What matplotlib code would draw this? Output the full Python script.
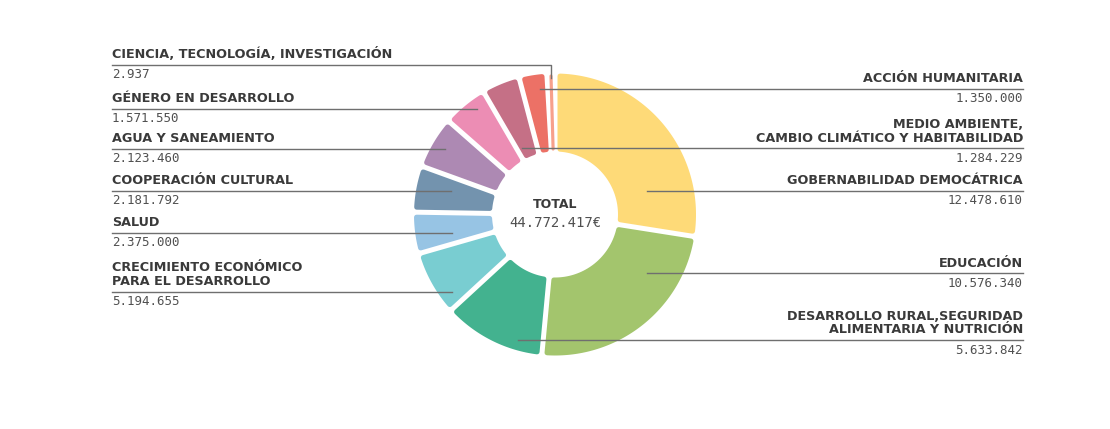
import numpy as np
import matplotlib.pyplot as plt
from matplotlib.patches import Polygon

plt.rcParams['font.family'] = ['DejaVu Sans']
NUM_FONT = ['DejaVu Sans Mono', 'DejaVu Sans']

# areas, clockwise from the top of the ring
categories = ['GOBERNABILIDAD DEMOCÁTRICA', 'EDUCACIÓN',
              'DESARROLLO RURAL,SEGURIDAD\nALIMENTARIA Y NUTRICIÓN',
              'CRECIMIENTO ECONÓMICO\nPARA EL DESARROLLO', 'SALUD',
              'COOPERACIÓN CULTURAL', 'AGUA Y SANEAMIENTO',
              'GÉNERO EN DESARROLLO',
              'MEDIO AMBIENTE,\nCAMBIO CLIMÁTICO Y HABITABILIDAD',
              'ACCIÓN HUMANITARIA', 'CIENCIA, TECNOLOGÍA, INVESTIGACIÓN']
amounts = [12478610, 10576340, 5633842, 5194655, 2375000, 2181792,
           2123460, 1571550, 1284229, 1350000, 2937]
total = 44772417
# share of the ring as drawn in the picture (%), it is not proportional to the amounts
drawn_share = [27.5, 24.0, 11.67, 7.39, 4.72, 5.28, 5.92, 5.14, 4.31, 3.17, 0.92]
colors = ['#FEDA78', '#A3C56D', '#43B28F', '#79CDD1', '#97C4E4', '#7393AE',
          '#AD89B3', '#EC8DB4', '#C57086', '#EC7166', '#F7A08B']

# label layout: side, y of the leader line (px from top), x where the leader ends
side = ['R', 'R', 'R', 'L', 'L', 'L', 'L', 'L', 'R', 'R', 'L']
line_y = [191, 273.3, 340, 291.7, 233, 190.7, 149, 109, 148.3, 89, 65]
lead_x = [647, 647, 518, 452, 452, 451, 445, 477, 522, 540, None]

W, H = 1110, 429
cx, cy = 555, 214.5
fig = plt.figure(figsize=(W / 100, H / 100), dpi=100)
ax = fig.add_axes([0, 0, 1, 1])

wedges, _ = ax.pie(drawn_share, startangle=90, counterclock=False, radius=141,
                   center=(cx, cy), wedgeprops=dict(width=78))
ax.set_xlim(0, W)
ax.set_ylim(0, H)
ax.set_aspect('equal')
ax.axis('off')

# redraw every wedge as a tile with a white gap and rounded corners
gap, rc = 5.0, 2.5
d = gap / 2 + rc
tips = []
for w, c in zip(wedges, colors):
    t1, t2 = w.theta1, w.theta2
    rout, rin = w.r, w.r - w.width
    w.set_visible(False)
    ro, ri = rout - rc, rin + rc
    off_o = np.degrees(np.arcsin(d / ro))
    off_i = np.degrees(np.arcsin(d / ri))
    mid = np.radians((t1 + t2) / 2)
    tips.append((cx + (rout - 4) * np.cos(mid), cy + (rout - 4) * np.sin(mid)))
    if (t2 - off_i) - (t1 + off_i) < 0.5:
        wpx = np.radians(t2 - t1) * rout - gap
        ax.plot([cx + ri * np.cos(mid), cx + ro * np.cos(mid)],
                [cy + ri * np.sin(mid), cy + ro * np.sin(mid)],
                color=c, lw=max(wpx, 2.5) * 0.72, solid_capstyle='round')
        continue
    ao = np.radians(np.linspace(t1 + off_o, t2 - off_o, 80))
    ai = np.radians(np.linspace(t2 - off_i, t1 + off_i, 40))
    xs = np.concatenate([cx + ro * np.cos(ao), cx + ri * np.cos(ai)])
    ys = np.concatenate([cy + ro * np.sin(ao), cy + ri * np.sin(ai)])
    ax.add_patch(Polygon(np.column_stack([xs, ys]), closed=True, fc=c, ec=c,
                         lw=2 * rc * 0.72, joinstyle='round'))

line_col = '#6f6f6f'
for i, cat in enumerate(categories):
    yl = H - line_y[i]
    amt = f'{amounts[i]:,}'.replace(',', '.')
    if side[i] == 'L':
        x0 = 112
        if lead_x[i] is None:
            tx, ty = tips[i]
            ax.plot([x0, tx, tx], [yl, yl, ty], color=line_col, lw=1.0)
        else:
            ax.plot([x0, lead_x[i]], [yl, yl], color=line_col, lw=1.0)
        ha = 'left'
    else:
        x0 = 1023
        ax.plot([lead_x[i], x0], [yl, yl], color=line_col, lw=1.0)
        ha = 'right'
    ax.text(x0, yl + 3.6, cat, ha=ha, va='bottom', fontsize=9.2,
            fontweight='bold', color='#3a3a3a', linespacing=1.08)
    ax.text(x0, yl - 3.5, amt, ha=ha, va='top', fontsize=9,
            family=NUM_FONT, color='#505050')

ax.text(cx, H - 204.3, 'TOTAL', ha='center', va='center', fontsize=9,
        fontweight='bold', color='#3a3a3a')
ax.text(cx, H - 223.3, f'{total:,}'.replace(',', '.') + '€', ha='center',
        va='center', fontsize=10, family=NUM_FONT, color='#505050')

plt.savefig('out.png', dpi=100)
